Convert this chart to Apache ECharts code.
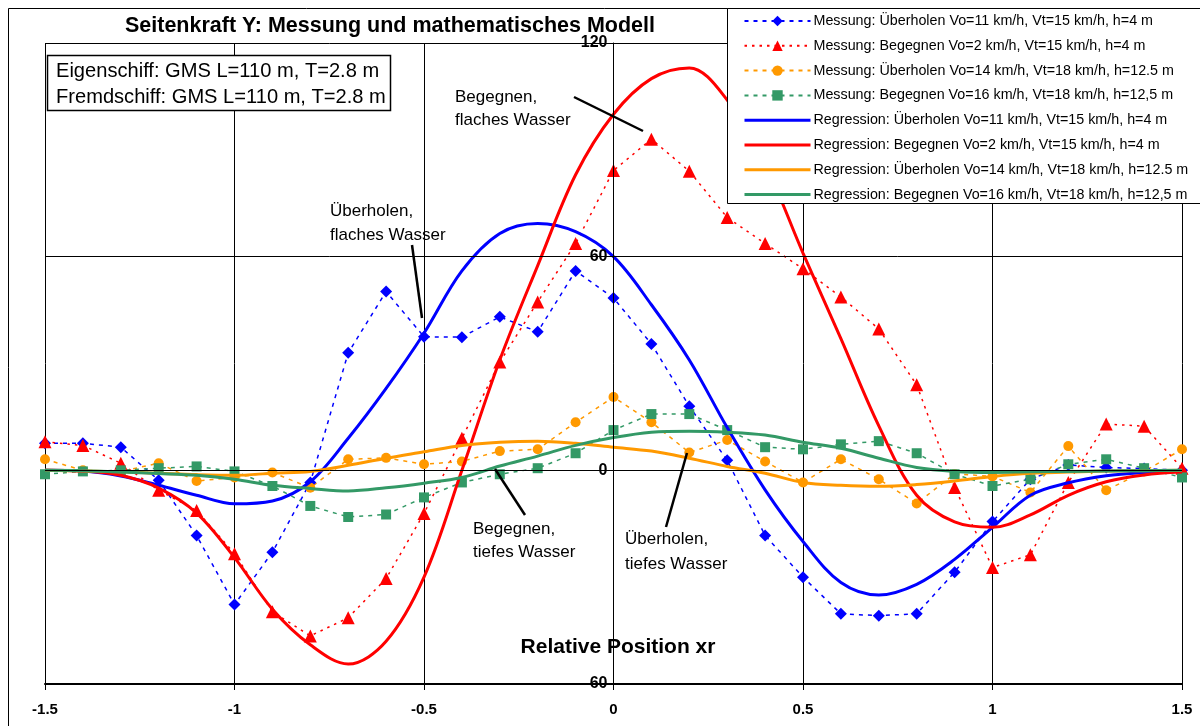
<!DOCTYPE html>
<html>
<head>
<meta charset="utf-8">
<script src="https://cdn.jsdelivr.net/npm/echarts@6/dist/echarts.min.js"></script>
<style>
html,body{margin:0;padding:0;background:#fff;}
#chart{width:1200px;height:726px;}
</style>
</head>
<body>
<div id="chart"></div>
<script>
// x positions (relative position xr)
const xs = [-1.5,-1.4,-1.3,-1.2,-1.1,-1.0,-0.9,-0.8,-0.7,-0.6,-0.5,-0.4,-0.3,-0.2,-0.1,0.0,0.1,0.2,0.3,0.4,0.5,0.6,0.7,0.8,0.9,1.0,1.1,1.2,1.3,1.4,1.5];

// Messung (measurement)
const measBlueOver   = [7.6,7.6,6.5,-2.8,-18.3,-37.7,-23,-3.4,33,50.2,37.5,37.4,43.1,38.9,56,48.4,35.5,18,2.8,-18.3,-30,-40.3,-40.8,-40.3,-28.6,-14.4,-2.5,1.5,0.8,0.5,0];
const measRedMeet    = [8,7,2,-5.6,-11.3,-23.4,-39.7,-46.5,-41.4,-30.4,-12.1,9,30.4,47.3,63.7,84.2,93,84,71,63.7,56.6,48.7,39.7,24,-4.8,-27.3,-23.7,-3.4,13,12.4,0.6];
const measOrangeOver = [3.1,0,-0.3,2,-3,-2,-0.6,-4.9,3.1,3.5,1.7,2.5,5.4,5.9,13.5,20.6,13.5,5,8.5,2.5,-3.4,3.1,-2.5,-9.3,-1,-1.7,-6.2,6.8,-5.6,-0.3,5.9];
const measGreenMeet  = [-1.1,-0.3,0,0.6,1.1,-0.3,-4.4,-10,-13.1,-12.4,-7.6,-3.4,-1.1,0.6,4.8,11.3,15.8,15.8,11.3,6.5,5.9,7.3,8.2,4.8,-1.1,-4.4,-2.5,1.7,3.1,0.6,-2];

// Regression (mathematical model)
const regBlueOver    = [0,-0.2,-1.6,-4.2,-7,-9.4,-8.6,-3.2,9,23,38.5,56,66.5,69.3,67,60,46.5,31,12,-5.5,-20,-31.5,-35,-32,-25,-16,-7,-3.5,-1.5,-0.6,-0.2];
const regRedMeet     = [0,-0.2,-1.4,-5,-12,-24.5,-39,-49,-54.4,-48,-30,0,31,57.5,83,100,110,113,104,86,61,37,12.5,-7,-14.5,-16,-12.5,-7,-3.2,-1.3,-0.5];
const regOrangeOver  = [0,-0.2,-0.4,-0.8,-1.2,-1.4,-0.8,-0.3,1.4,3.4,5.2,7,7.9,8.2,7.6,6.5,5.4,3.4,1.1,-0.8,-3.4,-4.2,-4.5,-4,-3,-1.7,-0.8,-0.5,-0.2,-0.1,0];
const regGreenMeet   = [0,-0.1,-0.5,-0.9,-1.4,-2.5,-4.2,-5.1,-5.8,-4.9,-3.6,-2,1.2,4,7,9.2,10.7,11,10.7,9.9,7.9,6.2,3.4,0.8,-0.3,-0.6,-0.4,-0.3,-0.2,-0.1,0];

const names = [
  'Messung: Überholen Vo=11 km/h, Vt=15 km/h, h=4 m',
  'Messung: Begegnen Vo=2 km/h, Vt=15 km/h, h=4 m',
  'Messung: Überholen Vo=14 km/h, Vt=18 km/h, h=12.5 m',
  'Messung: Begegnen Vo=16 km/h, Vt=18 km/h, h=12,5 m',
  'Regression: Überholen Vo=11 km/h, Vt=15 km/h, h=4 m',
  'Regression: Begegnen Vo=2 km/h, Vt=15 km/h, h=4 m',
  'Regression: Überholen Vo=14 km/h, Vt=18 km/h, h=12.5 m',
  'Regression: Begegnen Vo=16 km/h, Vt=18 km/h, h=12,5 m'
];

const BLUE = '#0000FF', RED = '#FF0000', ORANGE = '#FF9900', GREEN = '#339966';
const FONT = '"Liberation Sans", Arial, sans-serif';

function pts(arr){ return xs.map((x,i)=>[x, arr[i]]); }

function meas(name, arr, color, symbol, size, dash){
  return {
    name, type:'line', data:pts(arr), symbol, symbolSize:size, showSymbol:true,
    lineStyle:{color, width:1.5, type:dash},
    itemStyle:{color, borderWidth:0},
    z:3, animation:false
  };
}
function reg(name, arr, color){
  return {
    name, type:'line', data:pts(arr), symbol:'none', smooth:0.35,
    lineStyle:{color, width:3}, itemStyle:{color}, z:4, animation:false
  };
}

const chart = echarts.init(document.getElementById('chart'));

const textBlack = {fill:'#000', font:'17px ' + FONT};

const legendData = names.map((n,i)=> i < 4 ? {name:n} : {name:n, itemStyle:{opacity:0}, lineStyle:{width:3}});

chart.setOption({
  animation:false,
  backgroundColor:'#fff',
  grid:{left:45, right:18, top:43, bottom:42},
  xAxis:{
    type:'value', min:-1.5, max:1.5, interval:0.5, z:1,
    axisLine:{show:true, onZero:false, lineStyle:{color:'#000', width:2}},
    axisTick:{show:true, length:6, lineStyle:{color:'#000', width:1}},
    axisLabel:{color:'#000', fontSize:15, fontWeight:'bold', fontFamily:FONT, margin:18},
    splitLine:{show:true, lineStyle:{color:'#000', width:1}}
  },
  yAxis:{
    type:'value', min:-60, max:120, interval:60, position:'left', z:6,
    axisLine:{show:true, onZero:false, lineStyle:{color:'#000', width:1}},
    axisTick:{show:true, length:5, lineStyle:{color:'#000'}},
    axisLabel:{color:'#000', fontSize:16, fontWeight:'bold', fontFamily:FONT, margin:6},
    splitLine:{show:true, lineStyle:{color:'#000', width:1}}
  },
  legend:{
    orient:'vertical', left:743, top:14, itemWidth:66, itemHeight:13, itemGap:10.8,
    padding:0, z:200,
    textStyle:{color:'#000', fontSize:14.3, fontFamily:FONT, padding:[0,0,0,-2]},
    data:legendData
  },
  series:[
    meas(names[0], measBlueOver, BLUE, 'diamond', 12, [4,5]),
    meas(names[1], measRedMeet, RED, 'triangle', 13, [2.5,5]),
    meas(names[2], measOrangeOver, ORANGE, 'circle', 10, [4,5]),
    meas(names[3], measGreenMeet, GREEN, 'rect', 10, [4,5]),
    reg(names[4], regBlueOver, BLUE),
    reg(names[5], regRedMeet, RED),
    reg(names[6], regOrangeOver, ORANGE),
    reg(names[7], regGreenMeet, GREEN)
  ],
  graphic:[
    // outer chart frame
    {type:'rect', z:150, silent:true, shape:{x:8.5, y:8.5, width:1200, height:730},
     style:{fill:'none', stroke:'#000', lineWidth:1}},
    // legend box
    {type:'rect', z:150, silent:true, shape:{x:727.5, y:8.5, width:480, height:195},
     style:{fill:'#fff', stroke:'#000', lineWidth:1}},
    // title
    {type:'text', z:160, x:390, y:26, style:{text:'Seitenkraft Y: Messung und mathematisches Modell',
      fill:'#000', font:'bold 21.5px ' + FONT, textAlign:'center', textVerticalAlign:'middle'}},
    // info box
    {type:'rect', z:150, silent:true, shape:{x:47.5, y:55.5, width:343, height:55},
     style:{fill:'#fff', stroke:'#000', lineWidth:1.5}},
    {type:'text', z:160, x:56, y:71, style:{text:'Eigenschiff: GMS L=110 m, T=2.8 m', fill:'#000',
      font:'20.1px ' + FONT, textVerticalAlign:'middle'}},
    {type:'text', z:160, x:56, y:97, style:{text:'Fremdschiff: GMS L=110 m, T=2.8 m', fill:'#000',
      font:'20.1px ' + FONT, textVerticalAlign:'middle'}},
    // axis name
    {type:'text', z:160, x:618, y:647, style:{text:'Relative Position xr', fill:'#000',
      font:'bold 21px ' + FONT, textAlign:'center', textVerticalAlign:'middle'}},
    // annotations
    {type:'text', z:160, x:455, y:97, style:Object.assign({text:'Begegnen,', textVerticalAlign:'middle'}, textBlack)},
    {type:'text', z:160, x:455, y:120, style:Object.assign({text:'flaches Wasser', textVerticalAlign:'middle'}, textBlack)},
    {type:'line', z:160, shape:{x1:574, y1:97, x2:643, y2:131}, style:{stroke:'#000', lineWidth:2.5}},
    {type:'text', z:160, x:330, y:211, style:Object.assign({text:'Überholen,', textVerticalAlign:'middle'}, textBlack)},
    {type:'text', z:160, x:330, y:235, style:Object.assign({text:'flaches Wasser', textVerticalAlign:'middle'}, textBlack)},
    {type:'line', z:160, shape:{x1:412, y1:245, x2:422, y2:318}, style:{stroke:'#000', lineWidth:2.5}},
    {type:'text', z:160, x:473, y:529, style:Object.assign({text:'Begegnen,', textVerticalAlign:'middle'}, textBlack)},
    {type:'text', z:160, x:473, y:552, style:Object.assign({text:'tiefes Wasser', textVerticalAlign:'middle'}, textBlack)},
    {type:'line', z:160, shape:{x1:495, y1:469, x2:525, y2:515}, style:{stroke:'#000', lineWidth:2.5}},
    {type:'text', z:160, x:625, y:539, style:Object.assign({text:'Überholen,', textVerticalAlign:'middle'}, textBlack)},
    {type:'text', z:160, x:625, y:564, style:Object.assign({text:'tiefes Wasser', textVerticalAlign:'middle'}, textBlack)},
    {type:'line', z:160, shape:{x1:687, y1:453, x2:666, y2:527}, style:{stroke:'#000', lineWidth:2.5}}
  ]
});

// place the y axis at x = 0 (as in the reference) using the x scale
const px0 = chart.convertToPixel({xAxisIndex:0}, 0);
const pxMin = chart.convertToPixel({xAxisIndex:0}, -1.5);
chart.setOption({yAxis:{offset: -(px0 - pxMin)}});
</script>
</body>
</html>
